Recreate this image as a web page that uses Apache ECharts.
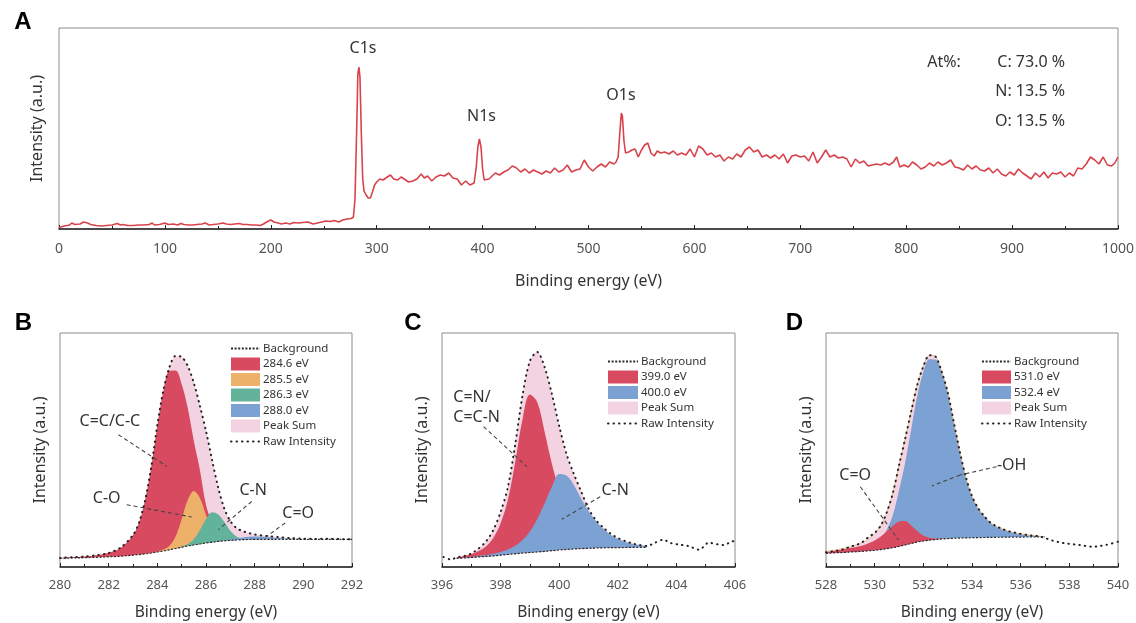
<!DOCTYPE html>
<html><head><meta charset="utf-8">
<script src="https://cdn.jsdelivr.net/npm/echarts@6/dist/echarts.min.js"></script>
<style>html,body{margin:0;padding:0;background:#fff}#chart{width:1136px;height:623px}</style>
</head><body><div id="chart"></div>
<script>
// ---------- Panel A: survey spectrum [binding energy (eV), intensity (a.u.)] ----------
const surveySpectrum = [
 [0,1.5],[5,3],[10,4],[12,6],[15,4.5],[20,5],[23,7],[27,6],[30,4.5],[35,3.5],[40,3],[45,3.5],[50,4],[55,5.5],[58,4],[60,4.5],
 [65,3.5],[70,3.5],[75,4],[80,4],[85,4.5],[88,6],[90,4],[95,4.5],[100,6],[103,4.5],[108,5],[112,4],[115,5.5],[118,4.5],[122,4],
 [126,4],[130,4.5],[135,5],[138,6],[142,4],[146,4.5],[150,5],[155,6],[158,5],[162,4.5],[166,5],[170,5.5],[174,4.5],[178,4.5],
 [182,4],[186,4],[190,3.5],[193,5],[197,7.5],[200,9],[203,7],[207,6],[210,5],[214,6],[218,5],[222,6.5],[226,6],[230,6.5],[235,7],
 [240,5],[244,6],[248,7],[252,8],[256,7.5],[260,8.5],[264,7],[268,9],[272,10],[276,10.5],[278,12],[279.5,30],[281,95],[282.2,155],
 [283.2,162],[284.2,152],[285.5,95],[286.8,50],[288,38],[290,34],[292,31],[294,31],[296,37],[298,44],[300,47],[303,50],[306,49],
 [310,52],[313,54],[316,50],[320,49],[323,52],[326,50],[330,47],[334,48],[338,50],[342,55],[345,51],[348,53],[352,48],[356,52],
 [360,54],[364,53],[368,56],[372,51],[376,50],[380,44],[384,48],[388,44],[392,46],[394,62],[395.5,82],[397,90],[398.5,82],[400,60],
 [401.5,49],[403,47],[406,50],[409,53],[412,56],[416,54],[420,57],[424,59],[428,63],[432,61],[436,57],[440,60],[444,56],[448,59],
 [452,57],[456,55],[460,58],[464,56],[468,61],[472,57],[476,59],[480,64],[484,57],[488,59],[492,60],[496,69],[500,62],[504,58],
 [508,62],[512,65],[516,62],[520,67],[524,65],[526,67],[528,72],[529.5,95],[531,116],[532,113],[533.5,88],[535,76],[538,77],
 [541,79],[544,80],[547,72],[550,79],[553,84],[556,86],[559,76],[562,73],[565,78],[568,76],[572,77],[576,75],[580,78],[584,74],
 [588,76],[592,74],[596,80],[600,72],[604,83],[608,80],[612,74],[616,76],[620,72],[624,74],[628,68],[632,72],[636,70],[640,75],
 [644,72],[648,79],[652,82],[656,77],[660,79],[664,72],[668,74],[672,71],[676,74],[680,70],[684,75],[688,66],[692,73],[696,74],
 [700,72],[704,73],[708,68],[712,77],[716,66],[720,72],[724,79],[728,72],[732,74],[736,71],[740,72],[744,70],[748,62],[752,70],
 [756,66],[760,68],[764,63],[768,64],[772,65],[776,64],[780,66],[784,64],[788,67],[791,72],[794,62],[798,64],[802,62],[806,67],
 [810,64],[814,60],[818,62],[822,66],[826,63],[830,67],[834,64],[838,66],[842,69],[846,62],[850,61],[854,59],[858,64],[862,60],
 [866,63],[870,59],[874,58],[878,61],[882,56],[886,60],[890,55],[894,53],[898,57],[902,54],[906,60],[910,56],[914,53],[918,50],
 [922,56],[926,52],[930,57],[934,51],[938,56],[942,55],[946,57],[950,52],[954,56],[958,53],[962,61],[966,60],[970,65],[974,72],
 [978,69],[982,65],[986,72],[990,64],[994,63],[997,66],[1000,72]
];
const surveyPeakLabels = [['C1s',287.1,181],['N1s',399,113],['O1s',530.7,134]];
const atomicLabels = [['At%:',835.7,166.5,'center'],['C: 73.0 %',950,166.7,'right'],['N: 13.5 %',950,137.3,'right'],['O: 13.5 %',950,107.3,'right']];

// ---------- Panel B: C1s ----------
const c1sEnergy = [280,280.5,281,281.5,282,282.5,283,283.25,283.5,283.75,284,284.25,284.5,284.75,285,285.25,285.5,285.75,286,286.25,286.5,286.75,287,287.25,287.5,287.75,288,288.5,289,289.5,290,290.5,291,291.5,292];
const c1sBackground = [8.7,9.0,9.3,9.7,10.2,10.8,11.8,12.4,13.1,14.0,15.0,16.0,17.2,18.5,19.8,21.0,22.0,23.0,24.0,24.8,25.6,26.2,26.7,27.0,27.3,27.5,27.6,27.7,27.7,27.7,27.7,27.7,27.7,27.7,27.7];
const c1s2846 = [0.5,0.8,1.2,2,4,8.5,20,32,54,86,126,160,179,178,163,138,104,74,38,20,10,5,2.5,1.5,1,0.6,0.4,0.2,0.1,0,0,0,0,0,0];
const c1s2855 = [0,0,0,0,0,0,0,0,0.1,0.3,0.6,1.5,4,12,28,46,54,46,28,12,4,1.2,0.4,0.1,0,0,0,0,0,0,0,0,0,0,0];
const c1s2863 = [0,0,0,0,0,0,0,0,0,0,0,0,0,0.1,0.5,2,6,14,24,30,27,19,9.5,3.5,1,0.3,0,0,0,0,0,0,0,0,0];
const c1s2880 = [0,0,0,0,0,0,0,0,0,0,0,0,0,0,0,0,0,0,0,0,0.3,0.6,1.1,1.7,2.3,2.8,3,2.4,1.2,0.5,0.2,0.1,0,0,0];
const c1sPeakSum = [0.5,0.8,1.2,2,4,8.5,20,32,54,86,127,161,183,192,190,180,162,138,112,82,54,32,19,12,8.5,6.5,5,3.5,2,1,0.5,0.3,0.2,0.1,0];
const c1sRaw = [9.0,9.9,10.4,11.8,14.0,19.5,32,44.5,67,100,142,177,200,211,210,201,184,161,136,107,79.5,58.5,46,39,36,34,32.5,31,29.8,28.8,28.3,28.1,28.2,27.9,27.8];

// ---------- Panel C: N1s ----------
const n1sEnergy = [396.5,396.75,397,397.25,397.5,397.75,398,398.25,398.5,398.75,399,399.25,399.5,399.75,400,400.25,400.5,400.75,401,401.25,401.5,401.75,402,402.25,402.5,402.75,403];
const n1sBackground = [8.7,9.1,9.6,10.1,10.6,11.1,11.8,12.5,13.2,13.9,14.5,15.0,15.6,16.3,17.0,17.5,18.0,18.4,18.7,19.0,19.2,19.3,19.4,19.5,19.6,19.7,19.7];
const n1s3990 = [1,2,3.5,6,10,18,32,55,92,134,158,150,120,87,60,38,23,13,7,4,2.2,1.2,0.7,0.4,0.2,0.1,0];
const n1s4000 = [0,0.2,0.5,1,1.5,2.2,3.2,5,8,13,21,33,48,64,76,74,64,50,37,27,19,13,8.5,5.5,3.5,2,1.2];
const n1sPeakSum = [0.5,2,4,8.5,15,26,43,67,110,158,192,200,184,157,124,95,75,57,40,28,20.5,14,9.5,6.5,4.2,2.6,1.6];
const n1sRawEnergy = [396.05,396.3,396.5,396.75,397,397.25,397.5,397.75,398,398.25,398.5,398.75,399,399.25,399.5,399.75,400,400.25,400.5,400.75,401,401.25,401.5,401.75,402,402.25,402.5,402.75,403,403.25,403.55,403.8,404.1,404.4,404.78,405.1,405.35,405.6,405.9,406];
const n1sRaw = [10,7.5,9.5,11,13.5,18.5,25.5,37,55,80,123,172,206,215,200,173,141,113,93,75.5,58.5,47,39.5,33.5,29,26,23.5,22,21,24,27.3,24,22.3,21,17.3,24.3,23,22,25.6,26];

// ---------- Panel D: O1s ----------
const o1sEnergy = [528,528.25,528.5,528.75,529,529.25,529.5,529.75,530,530.25,530.5,530.75,531,531.25,531.5,531.75,532,532.25,532.5,532.75,533,533.25,533.5,533.75,534,534.25,534.5,534.75,535,535.25,535.5,535.75,536,536.25,536.5,536.75,537];
const o1sBackground = [13.7,14.0,14.3,14.6,15.0,15.3,15.7,16.2,16.7,17.4,18.3,19.3,20.6,22.0,23.5,25.0,26.0,26.8,27.5,28.0,28.4,28.7,28.9,29.1,29.3,29.4,29.5,29.6,29.7,29.8,29.8,29.9,29.9,30,30,30,30];
const o1s5310 = [1.5,2,2.6,3.2,4,4.8,5.8,7.5,9.8,13,17.5,22,25,24,18,11,5.5,2.5,1,0.4,0.1,0,0,0,0,0,0,0,0,0,0,0,0,0,0,0,0];
const o1s5324 = [0.3,0.4,0.6,0.9,1.3,2,3,4.5,7,11,19,33,56,82,114,146,169,181,180,167,146,116,86,60,41,29,21,14.5,10.5,7.8,5.7,4.2,3,2,1.2,0.6,0.3];
const o1sPeakSum = [1.8,2.4,3.2,4.1,5.3,6.8,8.8,12,16.8,24,36.5,55,81,106,132,157,174.5,185,183,167.5,146.5,116.5,86.5,60.5,41.5,29.5,21.5,15,11,8.2,6,4.5,3.2,2.2,1.4,0.8,0.4];
const o1sRawEnergy = [528,528.25,528.5,528.75,529,529.25,529.5,529.75,530,530.25,530.5,530.75,531,531.25,531.5,531.75,532,532.25,532.5,532.75,533,533.25,533.5,533.75,534,534.25,534.5,534.75,535,535.25,535.5,535.75,536,536.25,536.5,536.75,537,537.3,537.6,537.9,538.4,538.96,539.2,539.5,540];
const o1sRaw = [14.7,15.5,16.5,18,20.3,22.1,25,30,34,41.4,54.8,74.3,101.6,128,155.5,182,200.5,211.8,210.5,195.5,174.9,145.2,115.4,89.6,70.8,59,51,44.6,40.7,38,35.8,34.4,33.1,32.1,31.4,30.8,29,26.5,24.7,23.5,22,20.3,20.8,22,25.3];

// ---------- styling ----------
const FONT = "'Noto Sans', 'DejaVu Sans', sans-serif";
const C = {red:'#d84a60', orange:'#eeb16a', green:'#63b39b', blue:'#7ba2d2', pink:'#f3d3e2', survey:'#d8434b'};
const BG_DASH = {type:[2,1.6], width:1.2, color:'#2a2a2a'};
const RAW_DOT = {type:[0.5,5], width:2, color:'#222', cap:'round'};
const SMOOTH = 0.35;

// [intensity, energy] rows; encode maps energy to x so stacking happens on intensity
const rows = (xs, ys) => xs.map((x, i) => [ys[i], x]);
const ENC = {x:1, y:0};

const gridDefs = [
  {left:59, top:28, width:1059, height:201},
  {left:60, top:333, width:292, height:234},
  {left:442, top:333, width:293, height:234},
  {left:826, top:333, width:292, height:234}
];
const xRanges = [[0,1000,100],[280,292,2],[396,406,2],[528,540,2]];
const yMax = [201,234,234,234];

const grid = gridDefs.map(g => Object.assign({show:true, borderColor:'#8c8c8c', borderWidth:1, containLabel:false, outerBoundsMode:'none'}, g));
const xAxis = xRanges.map((r, i) => ({
  gridIndex:i, type:'value', min:r[0], max:r[1], interval:r[2],
  axisLine:{show:true, onZero:false, lineStyle:{color:'#222', width:1.5}},
  axisTick:{show:true, inside:true, length:4, lineStyle:{color:'#222', width:1}},
  minorTick:{show:true, splitNumber:2, length:3, lineStyle:{color:'#222', width:1}},
  axisLabel:{margin:i===0?13:12, fontSize:i===0?14:13, color:'#555', fontFamily:FONT, formatter:(v) => String(v)},
  splitLine:{show:false}, minorSplitLine:{show:false},
  name:'Binding energy (eV)', nameLocation:'middle', nameGap:i===0?44:38, nameMoveOverlap:false,
  nameTextStyle:{fontSize:i===0?16:15.5, color:'#333', fontFamily:FONT}
}));
const yAxis = yMax.map((m, i) => ({
  gridIndex:i, type:'value', min:0, max:m,
  axisLine:{show:false}, axisTick:{show:false}, axisLabel:{show:false}, splitLine:{show:false},
  name:'Intensity (a.u.)', nameLocation:'middle', nameGap:i===0?14:12, nameMoveOverlap:false,
  nameTextStyle:{fontSize:16, color:'#333', fontFamily:FONT}
}));

function markText(items, fs) {
  return {
    symbol:'circle', symbolSize:1, itemStyle:{color:'rgba(0,0,0,0)'}, silent:true, animation:false,
    label:{show:true, position:'inside', formatter:'{b}', color:'#333', fontSize:fs, fontFamily:FONT, lineHeight:20},
    data: items.map(t => ({name:t[0], coord:[t[1], t[2]], label:{align:t[3] || 'center'}}))
  };
}
function leaders(segs) {
  return {
    symbol:['none','none'], silent:true, animation:false, label:{show:false},
    lineStyle:{type:[4,3], color:'#444', width:1.1},
    emphasis:{disabled:true},
    data: segs.map(s => [{coord:s[0]}, {coord:s[1]}])
  };
}

const series = [];
// Panel A
series.push({
  type:'line', name:'Survey', xAxisIndex:0, yAxisIndex:0, data:surveySpectrum, symbol:'none',
  lineStyle:{color:C.survey, width:1.6}, color:C.survey, z:3,
  markPoint: markText(surveyPeakLabels.concat(atomicLabels), 16)
});

function fitPanel(idx, xs, bg, comps, sum, rawX, raw, texts, lines, pinkLine) {
  const common = {type:'line', xAxisIndex:idx, yAxisIndex:idx, encode:ENC, symbol:'none', smooth:SMOOTH, silent:true};
  const stackBase = (id) => Object.assign({}, common, {name:'_base'+idx+id, stack:'s'+idx+id,
    data:rows(xs, bg), lineStyle:{opacity:0, width:0}, z:2});
  const area = (id, name, color, vals, lineStyle) => Object.assign({}, common, {name, stack:'s'+idx+id,
    data:rows(xs, vals), color, itemStyle:{color},
    lineStyle: lineStyle || {width:0, color}, areaStyle:{color, opacity:1}, z:2});
  series.push(stackBase('p'), area('p', 'Peak Sum', C.pink, sum, pinkLine));
  comps.forEach((c, k) => { series.push(stackBase('c'+k), area('c'+k, c.name, c.color, c.vals)); });
  series.push(Object.assign({}, common, {name:'Background', data:rows(xs, bg), lineStyle:BG_DASH, color:'#2a2a2a', z:4}));
  series.push(Object.assign({}, common, {name:'Raw Intensity', data:rows(rawX, raw), smooth:0.3,
    lineStyle:RAW_DOT, color:'#222', z:5,
    markPoint: markText(texts, 16), markLine: leaders(lines)}));
}

fitPanel(1, c1sEnergy, c1sBackground, [
  {name:'284.6 eV', color:C.red, vals:c1s2846},
  {name:'285.5 eV', color:C.orange, vals:c1s2855},
  {name:'286.3 eV', color:C.green, vals:c1s2863},
  {name:'288.0 eV', color:C.blue, vals:c1s2880}
], c1sPeakSum, c1sEnergy, c1sRaw,
 [['C=C/C-C',282.05,145.6],['C-O',281.92,69],['C-N',287.94,76.3],['C=O',289.79,53.3]],
 [[[282.40,132.3],[284.39,100.6]], [[282.74,62.3],[285.41,50]], [[287.88,65.6],[286.51,37.3]], [[289.25,44],[288.50,30.6]]]);

fitPanel(2, n1sEnergy, n1sBackground, [
  {name:'399.0 eV', color:C.red, vals:n1s3990},
  {name:'400.0 eV', color:C.blue, vals:n1s4000}
], n1sPeakSum, n1sRawEnergy, n1sRaw,
 [['C=N/\nC=C-N',396.385,160,'left'],['C-N',401.91,77]],
 [[[397.42,140.3],[398.9,100.3]], [[401.4,70.3],[400.09,47.7]]]);

fitPanel(3, o1sEnergy, o1sBackground, [
  {name:'532.4 eV', color:C.blue, vals:o1s5324},
  {name:'531.0 eV', color:C.red, vals:o1s5310}
], o1sPeakSum, o1sRawEnergy, o1sRaw,
 [['C=O',529.2,92],['-OH',535.63,102]],
 [[[529.41,80.3],[530.98,27]], [[535.01,100.3],[533.51,92]], [[533.51,92],[532.35,81]]],
 {width:1, color:'#e7bf92'});

function legendCfg(left, top, w, names) {
  return {
    orient:'vertical', left, top, padding:0, itemWidth:w, itemHeight:13, itemGap:2.5, selectedMode:false,
    textStyle:{fontSize:11.5, color:'#333', fontFamily:FONT, lineHeight:13, padding:[0,0,0,-2]},
    data: names.map(n => (n === 'Background' || n === 'Raw Intensity')
      ? {name:n, itemStyle:{opacity:0}}
      : {name:n, icon:'rect', itemStyle:{borderWidth:0}})
  };
}
const legend = [
  legendCfg(230, 342, 29, ['Background','284.6 eV','285.5 eV','286.3 eV','288.0 eV','Peak Sum','Raw Intensity']),
  legendCfg(607, 355, 30, ['Background','399.0 eV','400.0 eV','Peak Sum','Raw Intensity']),
  legendCfg(981, 355, 29, ['Background','531.0 eV','532.4 eV','Peak Sum','Raw Intensity'])
];

const panelLetters = [['A',23,22],['B',23.5,323.5],['C',413,323.5],['D',794.5,323.5]];
const graphic = panelLetters.map(p => ({type:'text', x:p[1], y:p[2], silent:true,
  style:{text:p[0], fill:'#000', font:"bold 24px 'Liberation Sans', Arial, sans-serif", textAlign:'center', textVerticalAlign:'middle'}}));

const chart = echarts.init(document.getElementById('chart'), null, {renderer:'canvas'});
chart.setOption({animation:false, backgroundColor:'#fff', textStyle:{fontFamily:FONT}, grid, xAxis, yAxis, legend, series, graphic});
</script></body></html>
